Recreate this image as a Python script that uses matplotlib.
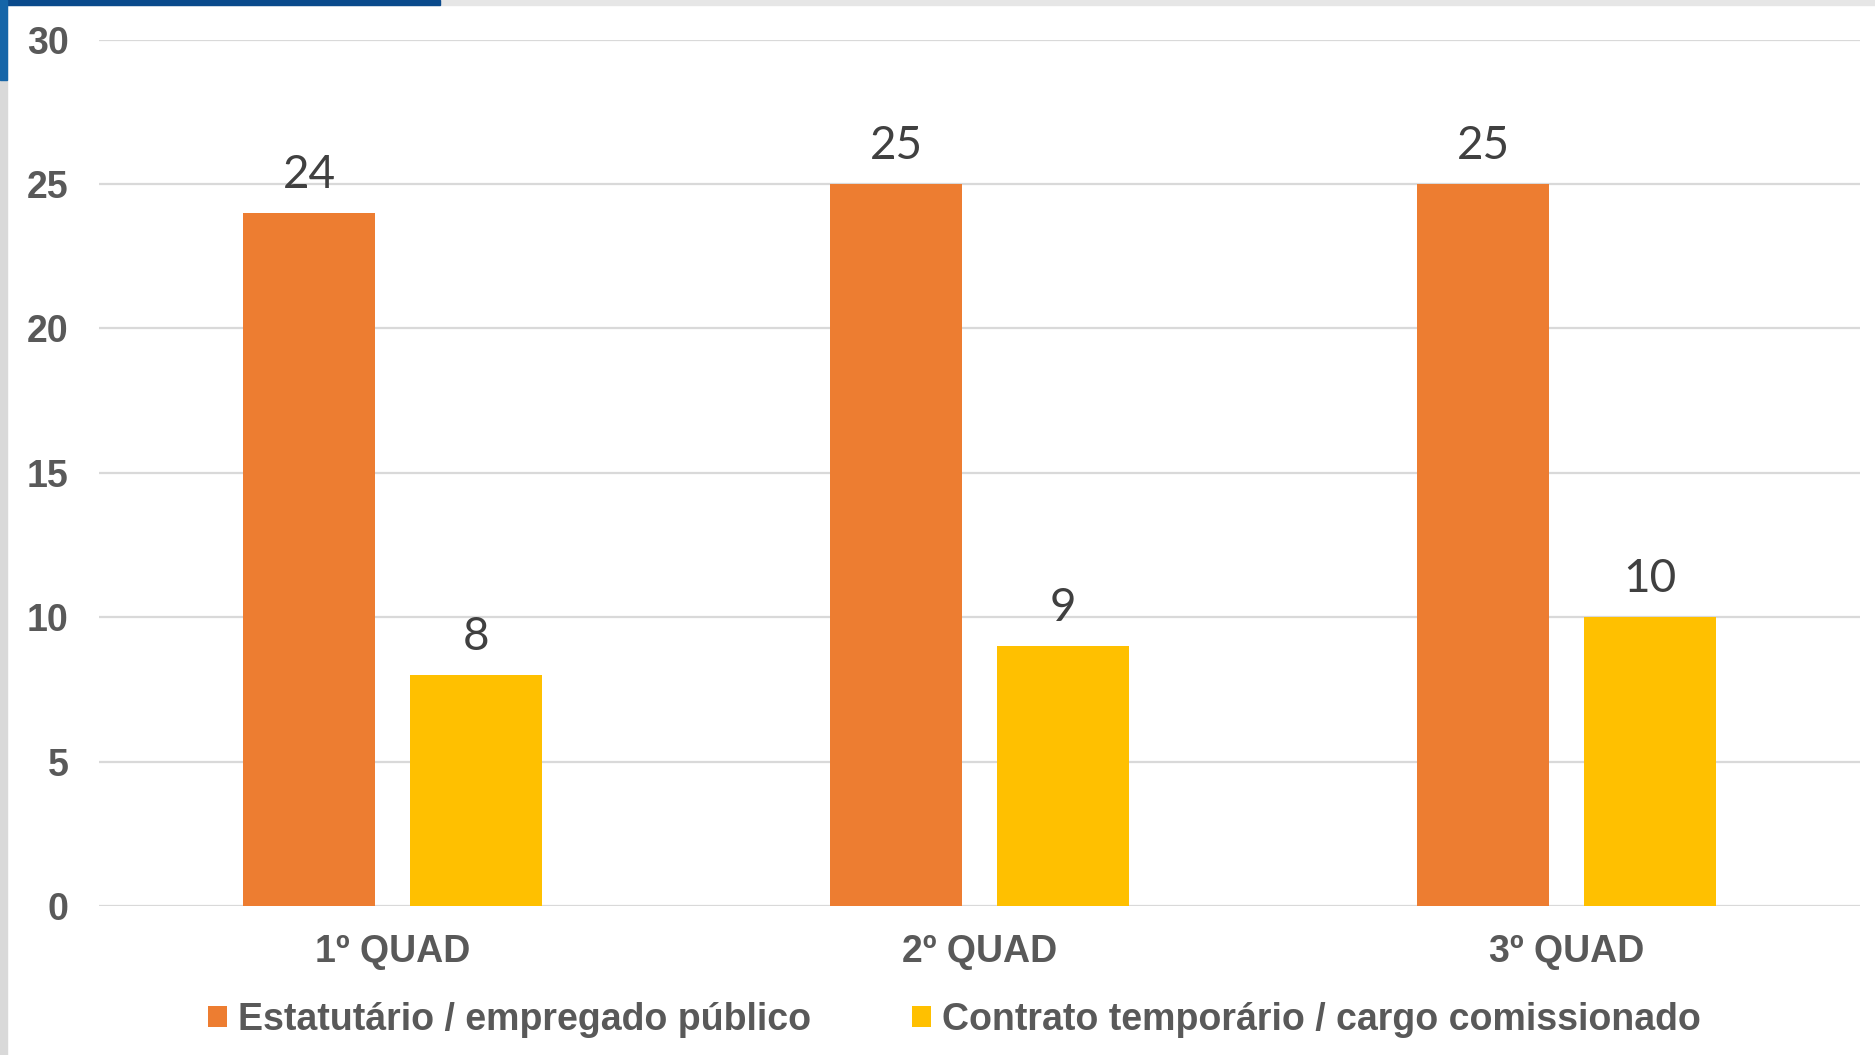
import matplotlib
matplotlib.use("Agg")
import matplotlib.pyplot as plt
import numpy as np
from matplotlib.patches import Rectangle

categories = ["1º QUAD", "2º QUAD", "3º QUAD"]
series_names = ["Estatutário / empregado público", "Contrato temporário / cargo comissionado"]
estatutario = [24, 25, 25]
contrato = [8, 9, 10]
yticks = [0, 5, 10, 15, 20, 25, 30]

colors = ["#ED7D31", "#FFC000"]
W, H = 1875, 1055
fig = plt.figure(figsize=(W / 100, H / 100), dpi=100)
fig.patch.set_facecolor("white")

# border decorations (screenshot frame)
fig.patches.append(Rectangle((0, 0), 7 / W, 1, transform=fig.transFigure, color="#d9d9d9", zorder=0))
fig.patches.append(Rectangle((0, 1 - 5 / H), 1, 5 / H, transform=fig.transFigure, color="#e6e6e6", zorder=0))
fig.patches.append(Rectangle((0, 1 - 5 / H), 440 / W, 5 / H, transform=fig.transFigure, color="#0a4a8c", zorder=1))
fig.patches.append(Rectangle((0, 1 - 80 / H), 7 / W, 80 / H, transform=fig.transFigure, color="#1565a8", zorder=1))

ax = fig.add_axes([99 / W, 1 - 906 / H, (1860 - 99) / W, (906 - 39.5) / H])
x = np.arange(len(categories))
width = 0.224
off = 0.142
b1 = ax.bar(x - off, estatutario, width, color=colors[0], label=series_names[0], zorder=3)
b2 = ax.bar(x + off, contrato, width, color=colors[1], label=series_names[1], zorder=3)

for bars in (b1, b2):
    for r in bars:
        ax.annotate(f"{int(r.get_height())}", (r.get_x() + r.get_width() / 2, r.get_height()),
                    xytext=(0, 12), textcoords="offset points", ha="center", va="bottom",
                    fontsize=33, color="#404040", family=["Lato", "DejaVu Sans"])

ax.set_xlim(-0.5, 2.5)
ax.set_ylim(0, 30)
ax.set_yticks(yticks)
ax.set_xticks(x)
ax.set_xticklabels(categories)
for s in ax.spines.values():
    s.set_visible(False)
ax.grid(axis="y", color="#d9d9d9", linewidth=1.6, zorder=0)
ax.set_axisbelow(True)
ax.tick_params(axis="both", length=0)
ax.tick_params(axis="y", pad=22)
ax.tick_params(axis="x", pad=20)
for lbl in ax.get_yticklabels() + ax.get_xticklabels():
    lbl.set_fontfamily(["Liberation Sans", "DejaVu Sans"])
    lbl.set_fontweight("bold")
    lbl.set_fontsize(27)
    lbl.set_color("#595959")

leg = fig.legend(handles=[b1, b2], labels=series_names, loc="center", bbox_to_anchor=(0.509, 1 - 1020 / H),
                 ncol=2, frameon=False, handlelength=0.5, handleheight=0.5, handletextpad=0.3,
                 columnspacing=2.7, prop={"family": ["Liberation Sans", "DejaVu Sans"], "weight": "bold", "size": 27})
for t in leg.get_texts():
    t.set_color("#595959")

fig.savefig("out.png", dpi=100)
